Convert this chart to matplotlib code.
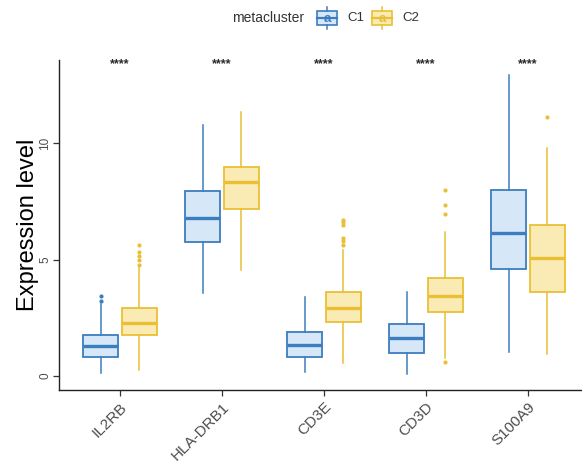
import numpy as np
import matplotlib.pyplot as plt
from matplotlib.patches import Rectangle

plt.rcParams['font.family'] = ['Liberation Sans', 'DejaVu Sans']

genes = ['IL2RB', 'HLA-DRB1', 'CD3E', 'CD3D', 'S100A9']
groups = ['C1', 'C2']
signif = ['****', '****', '****', '****', '****']

# box summaries per gene: lower whisker, Q1, median, Q3, upper whisker
c1_low = [0.13, 3.55, 0.14, 0.08, 1.03]
c1_q1 = [0.82, 5.77, 0.80, 0.97, 4.60]
c1_med = [1.29, 6.80, 1.32, 1.64, 6.15]
c1_q3 = [1.76, 7.96, 1.89, 2.22, 7.98]
c1_high = [3.10, 10.80, 3.40, 3.62, 12.96]
c1_out = [[3.22, 3.45], [], [], [], []]

c2_low = [0.26, 4.55, 0.56, 0.77, 0.94]
c2_q1 = [1.76, 7.17, 2.29, 2.73, 3.60]
c2_med = [2.27, 8.33, 2.93, 3.44, 5.06]
c2_q3 = [2.92, 8.97, 3.62, 4.19, 6.50]
c2_high = [4.63, 11.35, 5.40, 6.19, 9.78]
c2_out = [[4.78, 4.98, 5.15, 5.32, 5.62], [],
          [5.62, 5.80, 5.92, 6.50, 6.60, 6.70],
          [0.57, 6.98, 7.33, 8.00], [11.15]]

edge = {'C1': '#3C7DBF', 'C2': '#E9C035'}
fill = {'C1': '#D6E8F8', 'C2': '#FAEAB4'}


def make_stats(low, q1, med, q3, high, out):
    return [dict(whislo=a, q1=b, med=c, q3=d, whishi=e, fliers=f)
            for a, b, c, d, e, f in zip(low, q1, med, q3, high, out)]


series = {
    'C1': make_stats(c1_low, c1_q1, c1_med, c1_q3, c1_high, c1_out),
    'C2': make_stats(c2_low, c2_q1, c2_med, c2_q3, c2_high, c2_out),
}

fig = plt.figure(figsize=(5.82, 4.70), dpi=100)
ax = fig.add_axes([0.101, 0.17, 0.899, 0.703])

x = np.arange(1, len(genes) + 1)
offsets = {'C1': -0.19, 'C2': 0.19}
for g in groups:
    c = edge[g]
    ax.bxp(series[g], positions=x + offsets[g], widths=0.34,
           patch_artist=True, showcaps=False,
           boxprops=dict(facecolor=fill[g], edgecolor=c, linewidth=1.3),
           whiskerprops=dict(color=c, linewidth=1.1),
           medianprops=dict(color=c, linewidth=2.4),
           flierprops=dict(marker='o', markersize=2.0, markerfacecolor=c,
                           markeredgecolor=c, linestyle='none'))

for xi, s in zip(x, signif):
    ax.text(xi, 13.4, s, ha='center', va='center', fontsize=9,
            color='#2B2B2B', fontweight='bold')

ax.set_xlim(0.4, 5.53)
ax.set_ylim(-0.62, 13.6)
ax.set_xticks(x)
ax.set_xticklabels(genes, rotation=45, ha='right', va='top',
                   rotation_mode='anchor', fontsize=11, color='#4D4D4D')
ax.set_yticks([0, 5, 10])
ax.set_yticklabels(['0', '5', '10'], rotation=90, va='center',
                   fontsize=8.5, color='#4D4D4D')
ax.set_ylabel('Expression level', fontsize=17, labelpad=0)
ax.tick_params(axis='both', length=4, width=0.9, color='#333333')
ax.tick_params(axis='x', pad=3)
ax.tick_params(axis='y', pad=1.5)
for side in ['top', 'right']:
    ax.spines[side].set_visible(False)
for side in ['left', 'bottom']:
    ax.spines[side].set_linewidth(1.0)
    ax.spines[side].set_color('#222222')

# legend strip along the top, drawn in pixel units
lg = fig.add_axes([0, 0, 1, 1])
lg.set_xlim(0, 582)
lg.set_ylim(470, 0)
lg.axis('off')
lg.patch.set_alpha(0)
lg.text(232, 18, 'metacluster', ha='left', va='center', fontsize=10,
        color='#333333')
key_x = {'C1': 317, 'C2': 372}
for g in groups:
    k = key_x[g]
    c = edge[g]
    lg.add_patch(Rectangle((k, 11), 20, 14, facecolor=fill[g], edgecolor=c,
                           linewidth=1.2))
    lg.plot([k + 10, k + 10], [7, 11], color=c, linewidth=1.1)
    lg.plot([k + 10, k + 10], [25, 29], color=c, linewidth=1.1)
    lg.plot([k, k + 20], [18, 18], color=c, linewidth=1.6)
    lg.text(k + 10, 19, 'a', ha='center', va='center', fontsize=9.5,
            color=c, fontweight='bold', zorder=5)
    lg.text(k + 30, 18, g, ha='left', va='center', fontsize=9.5,
            color='#333333')

fig.savefig('out.png', dpi=100)
